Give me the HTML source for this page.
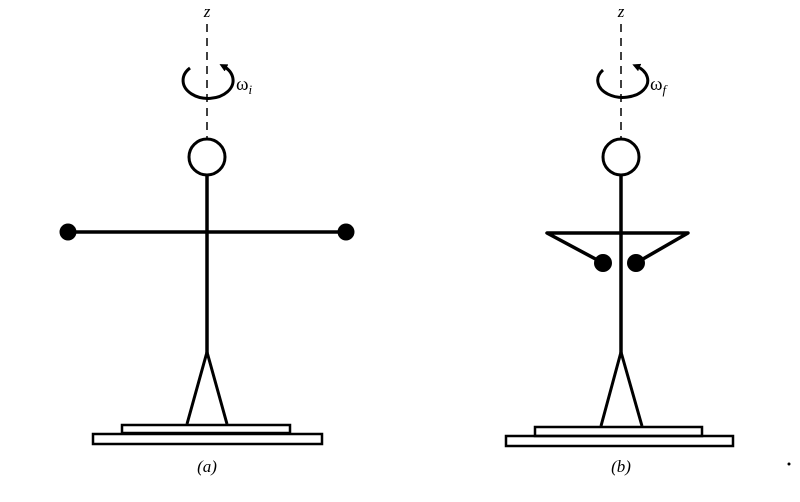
<!DOCTYPE html>
<html><head><style>body{margin:0;background:#fff}svg{display:block}</style></head><body>
<svg width="800" height="502" viewBox="0 0 800 502" xmlns="http://www.w3.org/2000/svg">
<defs><marker id="ah" markerWidth="8" markerHeight="8" refX="4" refY="4" orient="auto" markerUnits="userSpaceOnUse"><path d="M0,0 L8,4 L0,8 z" fill="#000"/></marker></defs>
<g font-family="Liberation Serif, serif" font-style="italic" fill="#000">
<text x="207" y="17" font-size="17" text-anchor="middle">z</text>
<text x="621" y="17" font-size="17" text-anchor="middle">z</text>
<text x="236" y="90" font-size="19" font-style="normal">ω<tspan font-style="italic" font-size="13" dy="4">i</tspan></text>
<text x="650" y="90" font-size="19" font-style="normal">ω<tspan font-style="italic" font-size="13" dy="4">f</tspan></text>
<text x="207" y="472" font-size="17" text-anchor="middle">(a)</text>
<text x="621" y="472" font-size="17" text-anchor="middle">(b)</text>
</g>
<g stroke="#000" fill="none">
<line x1="207" y1="24" x2="207" y2="139" stroke-width="1.5" stroke-dasharray="8,6"/>
<line x1="621" y1="24" x2="621" y2="139" stroke-width="1.5" stroke-dasharray="8,6"/>
<path d="M190,68 A25,18 0 1 0 223,66" stroke-width="3" marker-end="url(#ah)"/>
<path d="M603,70 A25,17 0 1 0 636,66" stroke-width="3" marker-end="url(#ah)"/>
<circle cx="207" cy="157" r="18" stroke-width="3"/>
<circle cx="621" cy="157" r="18" stroke-width="3"/>
<line x1="207" y1="175" x2="207" y2="353" stroke-width="3.5"/>
<line x1="621" y1="175" x2="621" y2="353" stroke-width="3.5"/>
<line x1="68" y1="232" x2="346" y2="232" stroke-width="3.5"/>
<path d="M207,352 L187,424 M207,352 L227,424" stroke-width="3"/>
<path d="M621,352 L601,426 M621,352 L642,426" stroke-width="3"/>
<path d="M603,263 L547,233 L688,233 L636,263" stroke-width="3.5" stroke-linejoin="round"/>
<rect x="122" y="425" width="168" height="8" stroke-width="2.5"/>
<rect x="93" y="434" width="229" height="10" stroke-width="2.5"/>
<rect x="535" y="427" width="167" height="9" stroke-width="2.5"/>
<rect x="506" y="436" width="227" height="10" stroke-width="2.5"/>
</g>
<g fill="#000">
<circle cx="68" cy="232" r="8.5"/><circle cx="346" cy="232" r="8.5"/>
<circle cx="603" cy="263" r="9"/><circle cx="636" cy="263" r="9"/>
<circle cx="789" cy="464" r="1.5"/>
</g>
</svg>
</body></html>
